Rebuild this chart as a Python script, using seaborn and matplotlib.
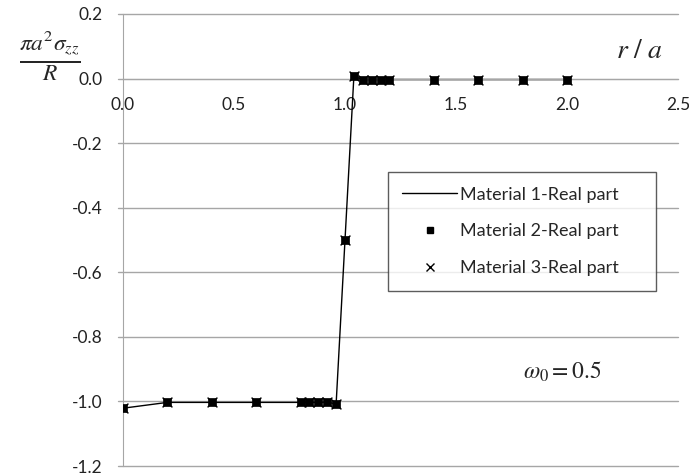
import numpy as np
import matplotlib
matplotlib.use("Agg")
import matplotlib.pyplot as plt
import seaborn as sns
from matplotlib.lines import Line2D

# r/a positions and normalised stress values
r_a = [0.0, 0.2, 0.4, 0.6, 0.8, 0.84, 0.88, 0.92, 0.96, 1.0,
       1.04, 1.08, 1.12, 1.16, 1.2, 1.4, 1.6, 1.8, 2.0]
mat1 = [-1.021, -1.003, -1.003, -1.003, -1.003, -1.003, -1.003, -1.002, -1.008, -0.5,
        0.007, -0.003, -0.003, -0.003, -0.003, -0.003, -0.003, -0.003, -0.003]
mat2 = list(mat1)
mat3 = list(mat1)
x_ticks = [0.0, 0.5, 1.0, 1.5, 2.0, 2.5]
y_ticks = [-1.2, -1.0, -0.8, -0.6, -0.4, -0.2, 0.0, 0.2]

sns.set_style("white")
plt.rcParams['font.family'] = ['Lato', 'DejaVu Sans']
plt.rcParams['mathtext.fontset'] = 'stix'

fig = plt.figure(figsize=(6.89, 4.76), dpi=100)
ax = fig.add_axes([123 / 689, 1 - 466 / 476, (678 - 123) / 689, (466 - 14) / 476])

grey = '#a6a6a6'
for yv in y_ticks:
    ax.axhline(yv, color=grey, lw=1.0, zorder=0, xmin=-0.009, clip_on=False)

sns.lineplot(x=r_a, y=mat1, ax=ax, color='black', lw=1.0, zorder=2)
sns.scatterplot(x=r_a, y=mat2, ax=ax, marker='s', s=40, color='black',
                edgecolor='black', zorder=3)
sns.scatterplot(x=r_a, y=mat3, ax=ax, marker='x', s=50, color='black',
                linewidth=1.0, zorder=4)

ax.set_xlim(0, 2.5)
ax.set_ylim(-1.2, 0.2)
ax.set_xticks(x_ticks)
ax.set_yticks(y_ticks)
ax.set_xticklabels([f'{v:.1f}' for v in x_ticks])
ax.set_yticklabels([f'{v:.1f}' for v in y_ticks])

for s in ['top', 'right']:
    ax.spines[s].set_visible(False)
ax.spines['bottom'].set_position(('data', 0))
ax.spines['bottom'].set_color(grey)
ax.spines['left'].set_color(grey)
ax.tick_params(axis='x', direction='out', length=5, color=grey, labelsize=12.5,
               labelcolor='#222222', pad=8)
ax.tick_params(axis='y', direction='out', length=0, labelsize=12.5,
               labelcolor='#222222', pad=15)

handles = [Line2D([0], [0], color='black', lw=1.0, label='Material 1-Real part'),
           Line2D([0], [0], color='black', marker='s', ls='', ms=4,
                  label='Material 2-Real part'),
           Line2D([0], [0], color='black', marker='x', ls='', ms=6,
                  label='Material 3-Real part')]
leg = ax.legend(handles=handles, loc='upper left',
                bbox_to_anchor=(0.4775, 0.55, 0.483, 0.1), mode='expand',
                frameon=True, fontsize=13, labelspacing=1.15, handlelength=3.0,
                handletextpad=0.2, borderpad=0.8, borderaxespad=0, fancybox=False)
leg.get_frame().set_edgecolor('#333333')
leg.get_frame().set_linewidth(1.0)

fig.text(50 / 689, 1 - 56 / 476, r'$\frac{\pi a^2\sigma_{zz}}{R}$', fontsize=24,
         ha='center', va='center')
fig.text(640 / 689, 1 - 50 / 476, r'$r\ /\ a$', fontsize=20, ha='center', va='center')
fig.text(562 / 689, 1 - 372 / 476, r'$\omega_0 = 0.5$', fontsize=17, ha='center',
         va='center')

fig.savefig('out.png', dpi=100)
